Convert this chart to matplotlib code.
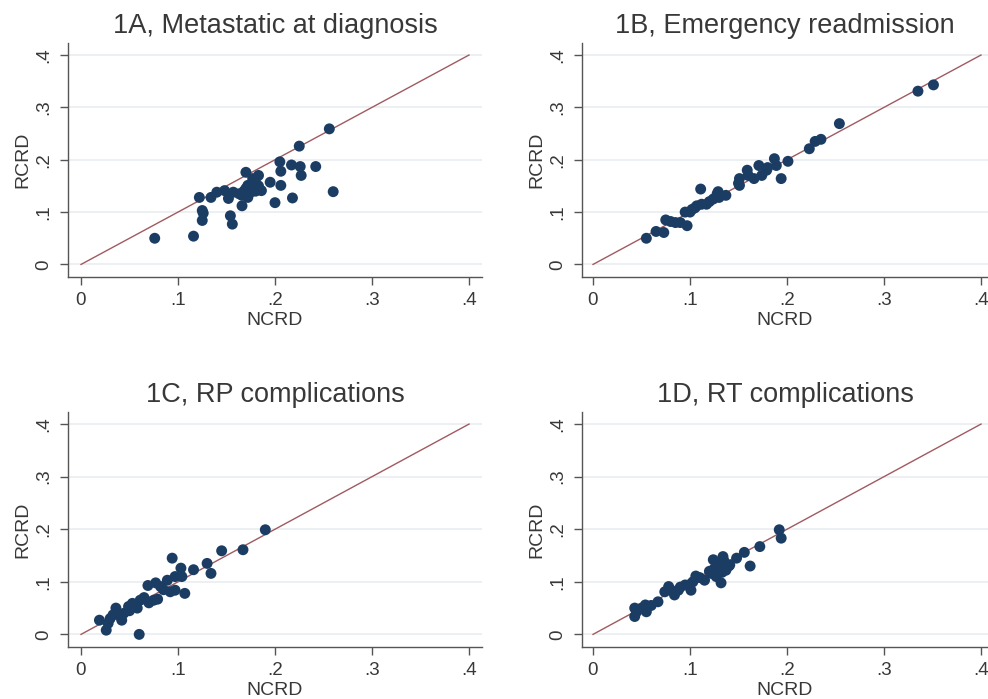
import matplotlib.pyplot as plt

# Data (NCRD on x, RCRD on y)
titles = ["1A, Metastatic at diagnosis", "1B, Emergency readmission",
          "1C, RP complications", "1D, RT complications"]

a_ncrd = [.076, .116, .122, .125, .126, .125, .134, .140, .148, .152, .154, .156, .157,
          .166, .166, .170, .172, .175, .177, .180, .183, .186, .195, .200, .205, .206,
          .206, .217, .218, .225, .226, .227, .242, .256, .260, .170, .175, .180, .168,
          .172, .178, .163, .183]
a_rcrd = [.050, .054, .128, .103, .098, .084, .128, .138, .141, .126, .093, .077, .138,
          .112, .132, .176, .151, .138, .164, .157, .170, .141, .157, .118, .196, .178,
          .151, .190, .127, .226, .187, .170, .187, .259, .139, .145, .150, .140, .140,
          .128, .158, .135, .150]

b_ncrd = [.055, .065, .073, .075, .085, .095, .097, .102, .107, .111, .112, .117, .124,
          .128, .129, .137, .151, .151, .159, .166, .171, .174, .179, .187, .189, .194,
          .201, .223, .229, .235, .254, .335, .351, .090, .100, .120, .130, .160, .180,
          .150, .080, .105]
b_rcrd = [.050, .063, .061, .085, .080, .100, .074, .105, .112, .144, .115, .115, .125,
          .135, .139, .132, .164, .151, .180, .164, .189, .170, .180, .202, .189, .164,
          .197, .221, .235, .239, .269, .331, .343, .080, .100, .120, .128, .170, .185,
          .155, .082, .108]

c_ncrd = [.019, .026, .028, .033, .036, .042, .044, .049, .053, .058, .060, .061, .069,
          .075, .077, .079, .082, .089, .092, .094, .097, .097, .103, .104, .107, .116,
          .130, .134, .145, .167, .190, .040, .050, .065, .070, .085, .030, .055]
c_rcrd = [.027, .008, .021, .037, .050, .027, .040, .053, .059, .050, .000, .065, .093,
          .065, .098, .067, .091, .103, .081, .145, .110, .084, .126, .110, .078, .123,
          .135, .116, .159, .161, .199, .035, .045, .070, .060, .085, .030, .055]

d_ncrd = [.043, .043, .045, .054, .055, .067, .074, .078, .084, .088, .095, .101, .103,
          .106, .115, .122, .124, .129, .132, .134, .137, .141, .148, .156, .162, .172,
          .192, .194, .125, .130, .135, .120, .140, .110, .090, .080, .100, .050, .060,
          .127, .133]
d_rcrd = [.050, .034, .043, .056, .043, .062, .081, .091, .075, .084, .094, .084, .100,
          .111, .103, .116, .142, .129, .098, .148, .122, .132, .145, .156, .130, .167,
          .199, .183, .125, .135, .140, .120, .130, .108, .090, .085, .095, .050, .055,
          .110, .118]

xs = [a_ncrd, b_ncrd, c_ncrd, d_ncrd]
ys = [a_rcrd, b_rcrd, c_rcrd, d_rcrd]
ticks = [0, .1, .2, .3, .4]
ticklabels = ["0", ".1", ".2", ".3", ".4"]

W, H = 988, 699
# axes boxes in pixels: left, top, right, bottom, pixel of x=0
boxes = [(68, 43, 482, 277, 81),
         (582, 43, 988, 277, 593),
         (68, 412, 482, 647, 81),
         (582, 412, 988, 647, 593)]

TXT = '#383838'
plt.rcParams['font.family'] = ['Liberation Sans', 'DejaVu Sans']

fig = plt.figure(figsize=(W / 100, H / 100), dpi=100)
for i in range(4):
    l, t, r, b, x0 = boxes[i]
    ax = fig.add_axes([l / W, 1 - b / H, (r - l) / W, (b - t) / H])
    ax.set_xlim((l - x0) / 970, (r - x0) / 970)
    ax.set_ylim(-0.024, 0.423)
    ax.set_yticks(ticks)
    ax.set_yticklabels(ticklabels, rotation=90, va='center')
    ax.set_xticks(ticks)
    ax.set_xticklabels(ticklabels)
    ax.grid(axis='y', color='#eaeef0', linewidth=1.2)
    ax.set_axisbelow(True)
    ax.plot([0, .4], [0, .4], color='#a05a60', linewidth=1.0, zorder=2)
    ax.scatter(xs[i], ys[i], s=62, color='#1c3d63', edgecolors='none', zorder=3)
    for side in ['top', 'right']:
        ax.spines[side].set_visible(False)
    for side in ['left', 'bottom']:
        ax.spines[side].set_color('#555555')
        ax.spines[side].set_linewidth(1.0)
    ax.tick_params(length=6, width=1, color='#555555', labelcolor=TXT,
                   labelsize=13.5, pad=5)
    ax.set_xlabel('NCRD', fontsize=14, color=TXT, labelpad=2)
    ax.set_ylabel('RCRD', fontsize=14, color=TXT, labelpad=3)
    ax.set_title(titles[i], fontsize=19.5, color=TXT, pad=7)

fig.savefig('out.png', dpi=100)
